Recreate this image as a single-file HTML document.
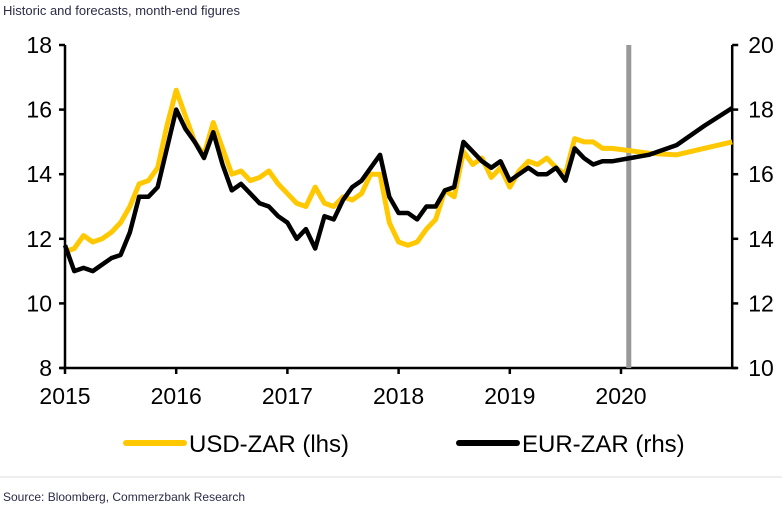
<!DOCTYPE html>
<html><head><meta charset="utf-8"><style>
body{margin:0;width:782px;height:509px;background:#fff;overflow:hidden;font-family:"Liberation Sans",sans-serif}
</style></head><body>
<svg width="782" height="509" xmlns="http://www.w3.org/2000/svg">
<text x="3" y="15" font-size="13" fill="#2b2b48">Historic and forecasts, month-end figures</text>
<g id="axes"></g>
<g id="series"></g>
<g>
<line x1="126" y1="443" x2="184" y2="443" stroke="#ffc800" stroke-width="6" stroke-linecap="round"/>
<text x="189" y="452" font-size="24" fill="#000">USD-ZAR (lhs)</text>
<line x1="459" y1="443" x2="517" y2="443" stroke="#000" stroke-width="6" stroke-linecap="round"/>
<text x="522" y="452" font-size="24" fill="#000">EUR-ZAR (rhs)</text>
</g>
<line x1="0" y1="477" x2="782" y2="477" stroke="#ddd" stroke-width="1"/>
<text x="3" y="501" font-size="12" fill="#2b2b48">Source: Bloomberg, Commerzbank Research</text>
</svg>
<script>
const xTicks=[2015,2016,2017,2018,2019,2020];
const leftTicks=[8,10,12,14,16,18];
const rightTicks=[10,12,14,16,18,20];
const forecastLine=2020.07;
// monthly history from Jan 2015
const usdHist=[11.6,11.7,12.1,11.9,12.0,12.2,12.5,13.0,13.7,13.8,14.2,15.5,
16.6,15.8,15.0,14.6,15.6,14.8,14.0,14.1,13.8,13.9,14.1,13.7,
13.4,13.1,13.0,13.6,13.1,13.0,13.3,13.2,13.4,14.0,14.0,12.5,
11.9,11.8,11.9,12.3,12.6,13.5,13.3,14.7,14.3,14.5,13.9,14.2,
13.6,14.1,14.4,14.3,14.5,14.2,14.0,15.1,15.0,15.0,14.8];
const eurHist=[13.8,13.0,13.1,13.0,13.2,13.4,13.5,14.2,15.3,15.3,15.6,16.8,
18.0,17.4,17.0,16.5,17.3,16.3,15.5,15.7,15.4,15.1,15.0,14.7,
14.5,14.0,14.3,13.7,14.7,14.6,15.2,15.6,15.8,16.2,16.6,15.3,
14.8,14.8,14.6,15.0,15.0,15.5,15.6,17.0,16.7,16.4,16.2,16.4,
15.8,16.0,16.2,16.0,16.0,16.2,15.8,16.8,16.5,16.3,16.4];
const fcDates=[2019.92,2020.25,2020.5,2020.75,2021.0];
const usdFc=[14.8,14.65,14.6,14.8,15.0];
const eurFc=[16.4,16.6,16.9,17.5,18.05];

const NS="http://www.w3.org/2000/svg";
const x0=65,yr=111.2,yTop=45,yBot=368;
const X=t=>x0+(t-2015)*yr;
const YL=v=>yBot-(v-8)/10*(yBot-yTop);
const YR=v=>yBot-(v-10)/10*(yBot-yTop);
function mk(tag,attrs,parent){const e=document.createElementNS(NS,tag);for(const k in attrs)e.setAttribute(k,attrs[k]);parent.appendChild(e);return e;}
const ax=document.getElementById('axes'),sr=document.getElementById('series');
const right=X(2021);
let e;
e=mk('line',{x1:x0,y1:yTop,x2:x0,y2:yBot,stroke:'#000','stroke-width':2.5},ax);

e=mk('line',{x1:right,y1:yTop,x2:right,y2:yBot,stroke:'#000','stroke-width':2.5},ax);

e=mk('line',{x1:x0-5,y1:yBot,x2:right+5,y2:yBot,stroke:'#000','stroke-width':2.5},ax);

leftTicks.forEach(v=>{mk('line',{x1:x0-6,y1:YL(v),x2:x0,y2:YL(v),stroke:'#000','stroke-width':2.5},ax);
 const t=mk('text',{x:x0-13,y:YL(v)+8,'font-size':23,'text-anchor':'end'},ax);t.textContent=v;
 });
rightTicks.forEach(v=>{mk('line',{x1:right,y1:YR(v),x2:right+6,y2:YR(v),stroke:'#000','stroke-width':2.5},ax);
 const t=mk('text',{x:right+16,y:YR(v)+8,'font-size':23},ax);t.textContent=v;
 });
xTicks.forEach(v=>{mk('line',{x1:X(v),y1:yBot,x2:X(v),y2:yBot+6,stroke:'#000','stroke-width':2.5},ax);
 const t=mk('text',{x:X(v),y:yBot+36,'font-size':23,'text-anchor':'middle'},ax);t.textContent=v;
 });
e=mk('line',{x1:X(forecastLine),y1:yTop,x2:X(forecastLine),y2:yBot,stroke:'#999','stroke-width':5},ax);

function pts(hist,fc,Y){const p=hist.map((v,i)=>[X(2015+i/12),Y(v)]);fc.forEach((v,i)=>p.push([X(fcDates[i]),Y(v)]));return p.map(q=>q.join(',')).join(' ');}
e=mk('polyline',{points:pts(usdHist,usdFc,YL),fill:'none',stroke:'#ffc800','stroke-width':5,'stroke-linejoin':'round'},sr);

e=mk('polyline',{points:pts(eurHist,eurFc,YR),fill:'none',stroke:'#000','stroke-width':4.5,'stroke-linejoin':'round'},sr);

</script>
</body></html>
